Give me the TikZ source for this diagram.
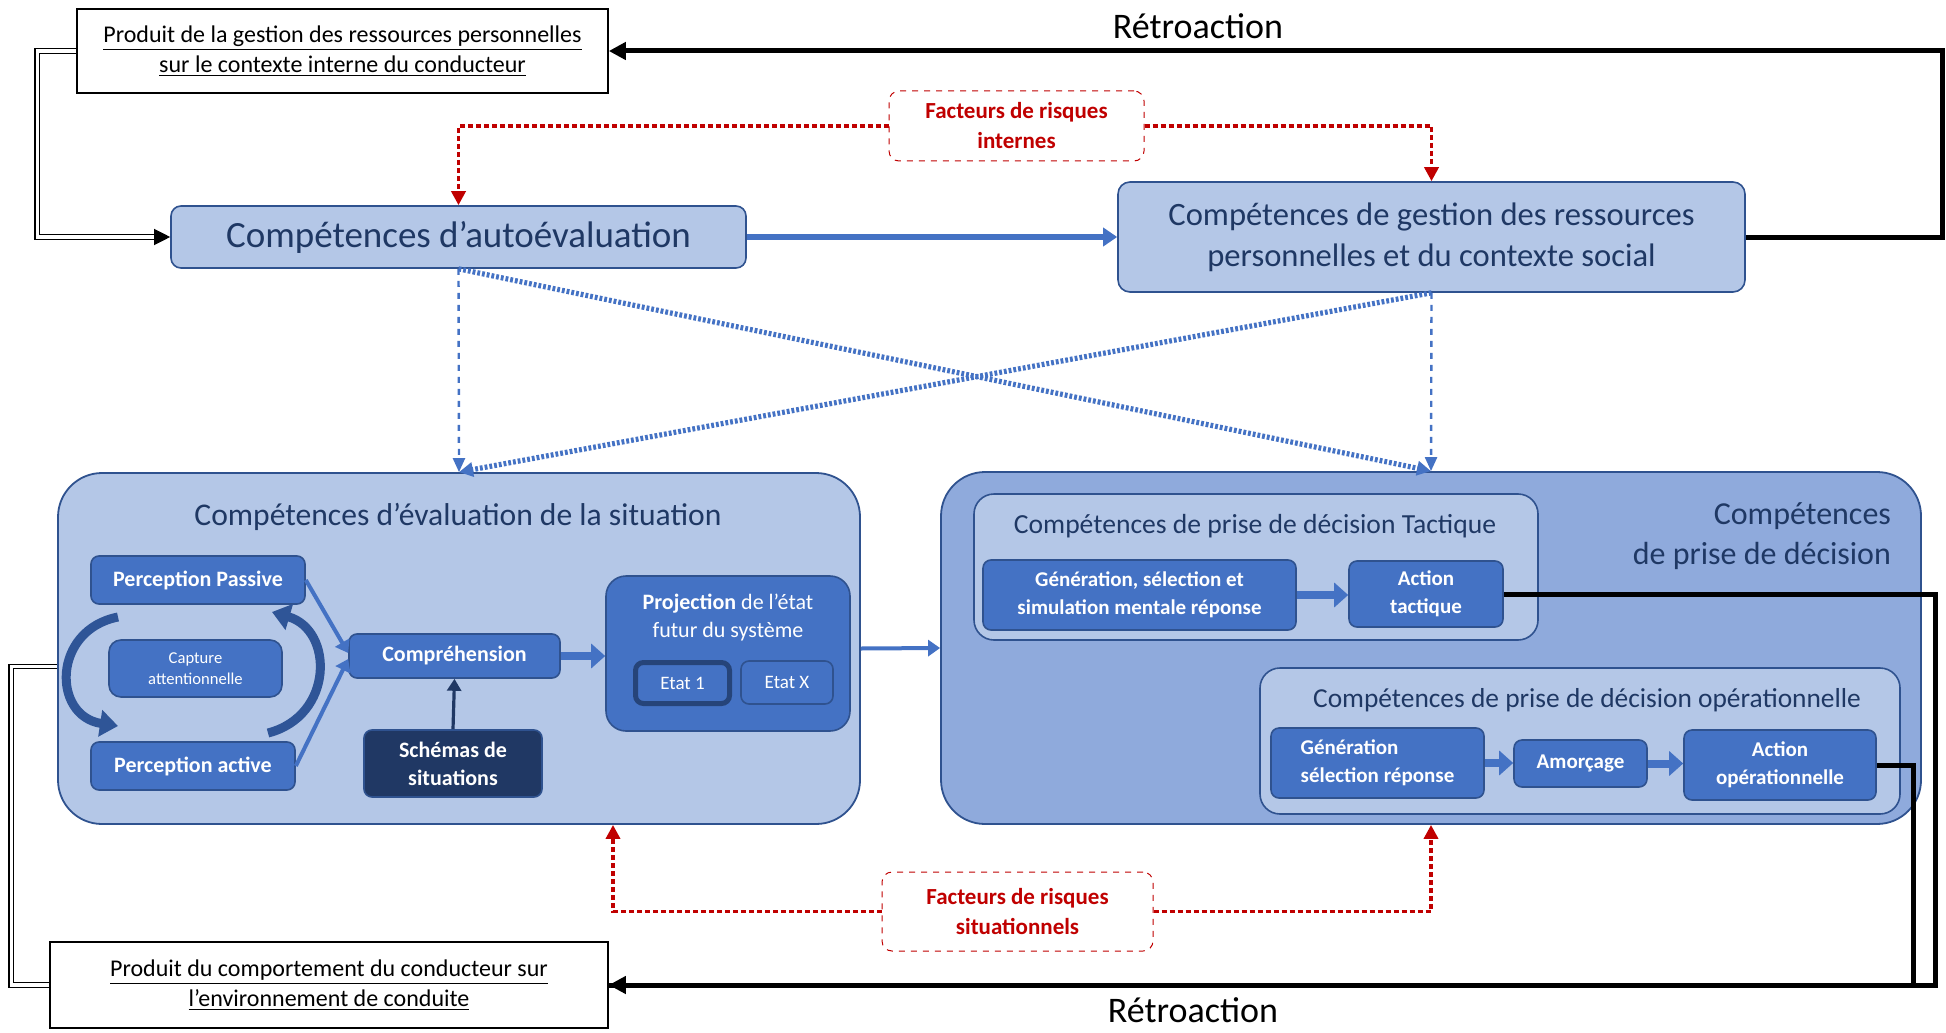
\documentclass[tikz,border=0pt]{standalone}
\usepackage{fontspec}
\setmainfont{Carlito}
\usepackage{xcolor}
\usetikzlibrary{arrows.meta, positioning, calc}
\definecolor{lightbl}{HTML}{B4C7E7}
\definecolor{midbl}{HTML}{8FAADC}
\definecolor{boxbl}{HTML}{4472C4}
\definecolor{edgebl}{HTML}{2F528F}
\definecolor{cycbl}{HTML}{2F5597}
\definecolor{navybl}{HTML}{203864}
\definecolor{textbl}{HTML}{1F3864}
\definecolor{riskred}{HTML}{C00000}

\begin{document}
\begin{tikzpicture}[
  x=0.5pt, y=-0.5pt,
  outbox/.style={rectangle, draw=black, line width=0.8pt, fill=white, align=center,
                 font=\fontsize{12}{15}\selectfont},
  compbox/.style={rectangle, draw=edgebl, line width=0.8pt, fill=lightbl, rounded corners=5pt,
                  text=textbl, align=center},
  zone/.style={rectangle, draw=edgebl, line width=0.9pt, rounded corners=22pt},
  subzone/.style={rectangle, draw=edgebl, line width=0.8pt, fill=lightbl, rounded corners=10pt},
  stepbox/.style={rectangle, draw=edgebl, line width=0.8pt, fill=boxbl, rounded corners=4pt,
                  text=white, align=center, font=\bfseries\fontsize{11}{14}\selectfont},
  risk/.style={rectangle, draw=riskred, dashed, line width=0.5pt, rounded corners=5pt, fill=white,
               text=riskred, align=center, font=\bfseries\fontsize{11.5}{15}\selectfont},
  headtxt/.style={text=textbl, align=center},
  riskarr/.style={draw=riskred, line width=1.8pt, dash pattern=on 2.5pt off 1.5pt,
                  -{Triangle[length=7pt, width=7pt]}},
  linkarr/.style={draw=boxbl, line width=1.2pt, dashed, -{Triangle[length=7pt, width=6pt]}},
  crossarr/.style={draw=boxbl, line width=2.6pt, dash pattern=on 1.4pt off 1pt,
                   -{Triangle[length=7pt, width=7pt]}},
  fbline/.style={draw=black, line width=2.5pt},
  fbarr/.style={fbline, -{Triangle[length=8.5pt, width=8.5pt]}},
  dbl/.style={draw=black, double=white, line width=0.6pt, double distance=1.6pt},
  flow/.style={draw=boxbl, line width=2pt, -{Triangle[length=6pt, width=8pt]}},
  fat/.style={draw=boxbl, line width=4pt, -{Triangle[length=7pt, width=12pt]}},
  cyclearr/.style={draw=cycbl, line width=4.5pt, -{Triangle[length=9pt, width=13pt]}},
  >=Stealth
]
  \useasboundingbox (0,0) rectangle (1946,1032);

  % Outputs and feedback labels
  \node[outbox, minimum width=265.5pt, minimum height=42pt] (prodint) at (342.5,51)
    {\underline{Produit de la gestion des ressources personnelles}\\
     \underline{sur le contexte interne du conducteur}};
  \node[outbox, minimum width=279pt, minimum height=43pt] (prodenv) at (329,985)
    {\underline{Produit du comportement du conducteur sur}\\
     \underline{l’environnement de conduite}};
  \node[font=\fontsize{18}{22}\selectfont] (retrotop) at (1198,26) {Rétroaction};
  \node[font=\fontsize{18}{22}\selectfont] (retrobot) at (1193,1010) {Rétroaction};

  % Row 1: self-evaluation and resource management
  \node[compbox, minimum width=287.5pt, minimum height=31pt, font=\fontsize{18.5}{22}\selectfont]
    (autoeval) at (458.5,237) {Compétences d’autoévaluation};
  \node[compbox, minimum width=313.5pt, minimum height=55pt, rounded corners=6pt,
        font=\fontsize{16.3}{20.5}\selectfont]
    (gestion) at (1431.5,237) {Compétences de gestion des ressources\\personnelles et du contexte social};
  \draw[draw=boxbl, line width=3pt, -{Triangle[length=7pt, width=9pt]}] (autoeval.east) -- (gestion.west);

  % Risk factors
  \node[risk, minimum width=127.5pt, minimum height=35pt] (internes) at (1016.5,126)
    {Facteurs de risques\\internes};
  \node[risk, minimum width=135.5pt, minimum height=39.5pt] (sitfac) at (1017.5,911.5)
    {Facteurs de risques\\situationnels};

  % Row 2: situation assessment
  \node[zone, fill=lightbl, minimum width=401pt, minimum height=175.5pt] (eval) at (459,648.5) {};
  \node[headtxt, font=\fontsize{15.8}{19}\selectfont] (evaltitle) at (458,517)
    {Compétences d’évaluation de la situation};
  \node[stepbox, minimum width=107pt, minimum height=24pt] (pp) at (198,580) {Perception Passive};
  \node[stepbox, minimum width=86.5pt, minimum height=28.5pt, rounded corners=6pt,
        font=\fontsize{8.3}{10.5}\selectfont] (capt) at (195.5,668.5) {Capture\\attentionnelle};
  \node[stepbox, minimum width=102pt, minimum height=24pt] (pa) at (193,766) {Perception active};
  \node[stepbox, minimum width=105.5pt, minimum height=22pt] (compr) at (454.5,656) {Compréhension};
  \node[stepbox, fill=navybl, minimum width=89pt, minimum height=33.5pt] (schemas) at (453,763.5)
    {Schémas de\\situations};
  \node[stepbox, minimum width=122pt, minimum height=77.5pt, rounded corners=10pt] (proj) at (728,653.5) {};
  \node[text=white, align=center, font=\fontsize{11}{14}\selectfont] (projtxt) at (728,618)
    {\textbf{Projection} de l’état\\futur du système};
  \node[stepbox, draw=cycbl!80!black, line width=2.5pt, minimum width=47pt, minimum height=20.5pt,
        font=\fontsize{9.5}{12}\selectfont] (etat1) at (682.5,683) {Etat 1};
  \node[stepbox, minimum width=46pt, minimum height=21.5pt, font=\fontsize{9.5}{12}\selectfont]
    (etatx) at (787,682.5) {Etat X};

  \coordinate (cl1) at (118,617);
  \coordinate (cl2) at (118,726);
  \coordinate (cr1) at (268,733);
  \coordinate (cr2) at (272,612);
  \draw[cyclearr] (cl1) .. controls (52,630) and (52,716) .. (cl2);
  \draw[cyclearr] (cr1) .. controls (334,716) and (334,630) .. (cr2);

  \draw[flow] (pp.east) -- ($(compr.west)+(0,-3)$);
  \draw[flow] (pa.east) -- ($(compr.west)+(0,3)$);
  \draw[draw=navybl, line width=1.6pt, -{Triangle[length=6pt, width=7pt]}] (schemas.north) -- (compr.south);
  \draw[fat] (compr.east) -- (compr.east -| proj.west);

  % Row 2: decision making
  \node[zone, fill=midbl, minimum width=490pt, minimum height=176pt] (decision) at (1431,648) {};
  \node[headtxt, align=right, anchor=east, font=\fontsize{16}{20}\selectfont] (dectitle) at (1898,536)
    {Compétences\\de prise de décision};

  \node[subzone, minimum width=282pt, minimum height=73pt] (tact) at (1256,567) {};
  \node[headtxt, font=\fontsize{13.8}{16}\selectfont] (tacttitle) at (1255,526)
    {Compétences de prise de décision Tactique};
  \node[stepbox, minimum width=156.5pt, minimum height=35pt, font=\bfseries\fontsize{10.5}{14}\selectfont]
    (gensim) at (1139.5,595) {Génération, sélection et\\simulation mentale réponse};
  \node[stepbox, minimum width=77pt, minimum height=33pt, font=\bfseries\fontsize{10.5}{14}\selectfont]
    (acttact) at (1426,594) {Action\\tactique};
  \draw[fat] (gensim.east) -- (gensim.east -| acttact.west);

  \node[subzone, minimum width=320pt, minimum height=73pt] (oper) at (1580,741) {};
  \node[headtxt, font=\fontsize{13.7}{16}\selectfont] (opertitle) at (1587,700)
    {Compétences de prise de décision opérationnelle};
  \node[stepbox, align=left, minimum width=106.5pt, minimum height=35pt,
        font=\bfseries\fontsize{10.5}{14}\selectfont] (gensel) at (1377.5,763) {Génération\\sélection réponse};
  \node[stepbox, minimum width=66.5pt, minimum height=23.5pt, font=\bfseries\fontsize{10.5}{14}\selectfont]
    (amorc) at (1580.5,763.5) {Amorçage};
  \node[stepbox, minimum width=96pt, minimum height=35pt, font=\bfseries\fontsize{10.5}{14}\selectfont]
    (actop) at (1780,765) {Action\\opérationnelle};
  \draw[fat] (gensel.east) -- (gensel.east -| amorc.west);
  \draw[fat] (amorc.east) -- (amorc.east -| actop.west);

  \draw[flow] (eval.east) -- (decision.west);

  % Links between competences
  \draw[linkarr] (autoeval.south) -- (eval.north);
  \draw[linkarr] (gestion.south) -- (decision.north);
  \draw[crossarr] (autoeval.south) -- (decision.north);
  \draw[crossarr] (gestion.south) -- (eval.north);

  % Risk arrows
  \draw[riskarr] (internes.west) -| (autoeval.north);
  \draw[riskarr] (internes.east) -| (gestion.north);
  \draw[riskarr] (sitfac.west) -| ($(eval.south)+(154,0)$);
  \draw[riskarr] (sitfac.east) -| (decision.south);

  % Feedback loops
  \draw[fbarr] (gestion.east) -- ++(197,0) |- (prodint.east);
  \draw[fbline] (actop.east) -- ++(37,0) |- (prodenv.east);
  \draw[fbarr] (acttact.east) -- ++(432,0) |- (prodenv.east);
  \draw[dbl, -{Triangle[length=8pt, width=8pt]}] (prodint.west) -- ++(-39,0) |- (autoeval.west);
  \draw[dbl] ($(eval.west)+(0,18)$) -- ++(-46,0) |- (prodenv.west);
\end{tikzpicture}
\end{document}
